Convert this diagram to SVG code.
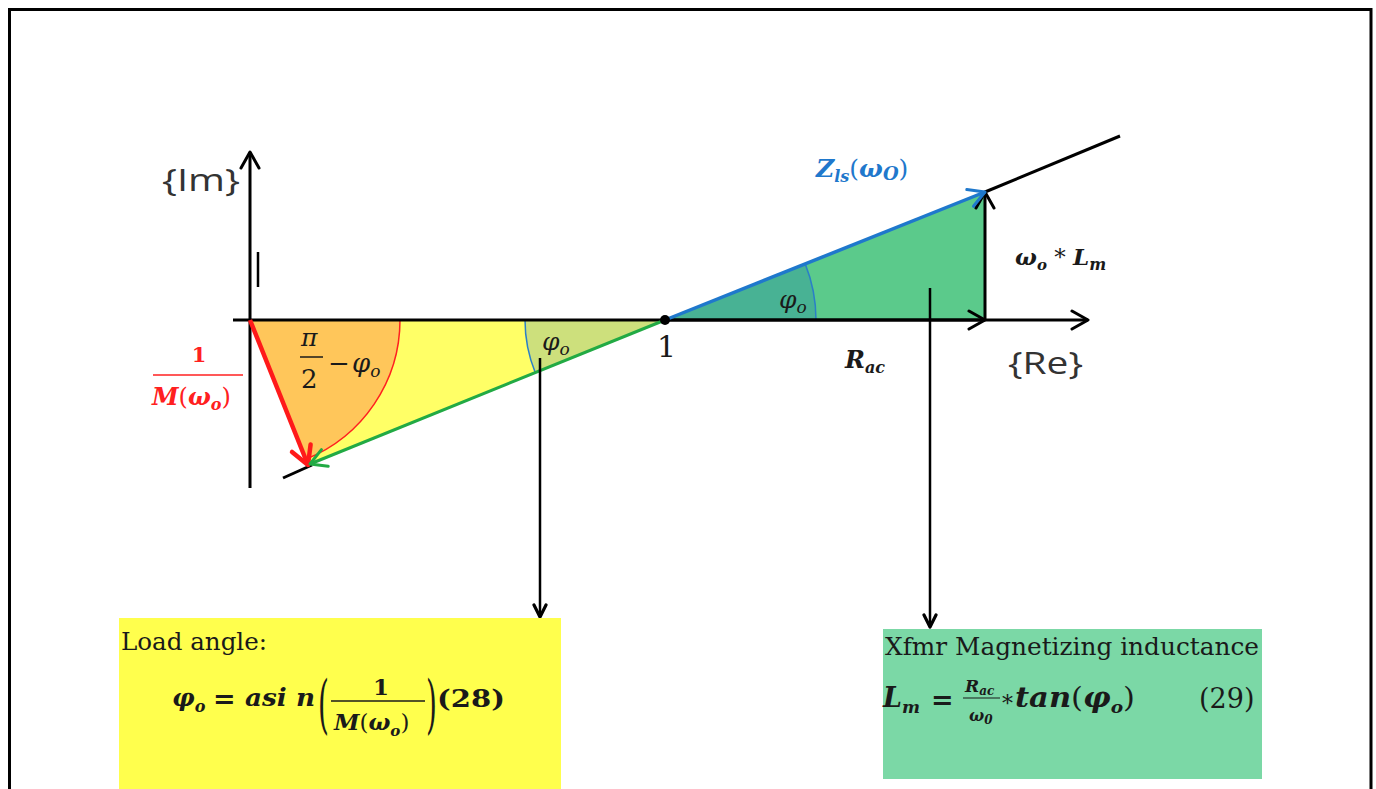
<svg xmlns="http://www.w3.org/2000/svg" width="1376" height="789" viewBox="0 0 1376 789">
<style>
.ax{stroke:#000;stroke-width:3;fill:none}
.m{font-family:"DejaVu Serif","Liberation Serif",serif;font-style:italic;font-weight:bold}
.mi{font-family:"DejaVu Serif","Liberation Serif",serif;font-style:italic}
.sans{font-family:"Open Sans","DejaVu Sans",sans-serif;fill:#333}
.ser{font-family:"DejaVu Serif","Liberation Serif",serif;fill:#1a1a1a}
</style>
<defs>
<marker id="chk" markerUnits="userSpaceOnUse" viewBox="0 0 20 22" refX="18" refY="11" markerWidth="20" markerHeight="22" orient="auto">
<path d="M2,2 L18,11 L2,20" fill="none" stroke="#000" stroke-width="3" stroke-linejoin="round" stroke-linecap="round"/>
</marker>
<marker id="chr" markerUnits="userSpaceOnUse" viewBox="0 0 24 26" refX="21" refY="13" markerWidth="24" markerHeight="26" orient="auto">
<path d="M3,3 L21,13 L3,23" fill="none" stroke="#ff1a1a" stroke-width="4.5" stroke-linejoin="round" stroke-linecap="round"/>
</marker>
<marker id="chg" markerUnits="userSpaceOnUse" viewBox="0 0 20 22" refX="18" refY="11" markerWidth="20" markerHeight="22" orient="auto">
<path d="M2,2 L18,11 L2,20" fill="none" stroke="#22aa44" stroke-width="3" stroke-linejoin="round" stroke-linecap="round"/>
</marker>
<marker id="chb" markerUnits="userSpaceOnUse" viewBox="0 0 20 22" refX="18" refY="11" markerWidth="20" markerHeight="22" orient="auto">
<path d="M2,2 L18,11 L2,20" fill="none" stroke="#1f78cc" stroke-width="3" stroke-linejoin="round" stroke-linecap="round"/>
</marker>
<marker id="chc" markerUnits="userSpaceOnUse" viewBox="0 0 16 16" refX="14" refY="8" markerWidth="16" markerHeight="16" orient="auto">
<path d="M2,2 L14,8 L2,14" fill="none" stroke="#000" stroke-width="3.2" stroke-linejoin="round" stroke-linecap="round"/>
</marker>
</defs>
<rect x="0" y="0" width="1376" height="789" fill="#fff"/>
<g id="frame"><path d="M9.5,800 L9.5,9.5 L1371,9.5 L1371,800" fill="none" stroke="#000" stroke-width="3"/></g>

<g id="left-triangle">
<path d="M250,320 L665,320 L308,465 Z" fill="#ffff66"/>
<path d="M250,320 L400,320 A150,150 0 0 1 305.7,459.2 Z" fill="#ffc65a"/>
<path d="M400,320 A150,150 0 0 1 305.7,459.2" fill="none" stroke="#ff2020" stroke-width="1.5"/>
<path d="M665,320 L525,320 A140,140 0 0 0 535.3,372.7 Z" fill="#cde07c"/>
<path d="M525,320 A140,140 0 0 0 535.3,372.7" fill="none" stroke="#2a7fc8" stroke-width="1.5"/>
</g>

<g id="right-triangle">
<path d="M665,320 L985,320 L985,192 Z" fill="#5bca8b"/>
<path d="M665,320 L816,320 A151,151 0 0 0 805.2,263.9 Z" fill="#48b294"/>
<path d="M816,320 A151,151 0 0 0 805.2,263.9" fill="none" stroke="#2a7fc8" stroke-width="1.5"/>
</g>

<g id="axes">
<line class="ax" x1="250" y1="488" x2="250" y2="152" marker-end="url(#chk)"/>
<line class="ax" x1="233" y1="320" x2="1088" y2="320" marker-end="url(#chk)"/>
<line class="ax" x1="665" y1="320" x2="985" y2="320" marker-end="url(#chk)"/>
<line class="ax" x1="985" y1="320" x2="985" y2="192" marker-end="url(#chk)"/>
<line class="ax" x1="985" y1="192" x2="1120" y2="136"/>
<line class="ax" x1="283" y1="478" x2="312" y2="465"/>
<line x1="258" y1="252" x2="258" y2="287" stroke="#000" stroke-width="2.5"/>
</g>

<g id="vectors">
<line x1="250" y1="320" x2="308" y2="465" stroke="#ff1a1a" stroke-width="4.5" marker-end="url(#chr)"/>
<line x1="665" y1="320" x2="310" y2="464" stroke="#22aa44" stroke-width="3" marker-end="url(#chg)"/>
<line x1="665" y1="320" x2="985" y2="192" stroke="#1f78cc" stroke-width="3.5" marker-end="url(#chb)"/>
<circle cx="665" cy="320" r="5" fill="#000"/>
</g>

<g id="labels">
<text class="sans" x="162" y="191" font-size="31" textLength="78" lengthAdjust="spacingAndGlyphs">{Im}</text>
<text class="sans" x="1008" y="374" font-size="31" textLength="75" lengthAdjust="spacingAndGlyphs">{Re}</text>
<text class="ser" x="657" y="357" font-size="30">1</text>
<text class="mi" x="542" y="350" font-size="25" fill="#1a1a1a">φ<tspan font-size="17" dy="5">o</tspan></text>
<text class="mi" x="779" y="308" font-size="25" fill="#1a1a1a">φ<tspan font-size="17" dy="5">o</tspan></text>
<text class="mi" x="301" y="346" font-size="25" fill="#1a1a1a">π</text>
<line x1="300" y1="357" x2="323" y2="357" stroke="#1a1a1a" stroke-width="1.5"/>
<text class="ser" x="301" y="388" font-size="26">2</text>
<text class="ser" x="328" y="372" font-size="26">−</text>
<text class="mi" x="352" y="372" font-size="26" fill="#1a1a1a">φ<tspan font-size="17" dy="5">o</tspan></text>
<text class="m" x="199" y="362" font-size="21" fill="#ff2020" text-anchor="middle" style="font-style:normal">1</text>
<line x1="153" y1="375" x2="243" y2="375" stroke="#ff2020" stroke-width="1.5"/>
<text class="m" x="152" y="405" font-size="24" fill="#ff2020">M<tspan font-style="normal" font-weight="normal">(</tspan>ω<tspan font-size="16" dy="5">o</tspan><tspan dy="-5" font-style="normal" font-weight="normal">)</tspan></text>
<text class="m" x="816" y="177" font-size="25" fill="#1f78cc">Z<tspan font-size="16" dy="5">ls</tspan><tspan dy="-5" font-style="normal" font-weight="normal">(</tspan>ω<tspan font-size="18" dy="3">O</tspan><tspan dy="-3" font-style="normal" font-weight="normal">)</tspan></text>
<text class="m" x="1015" y="265" font-size="23" fill="#1a1a1a">ω<tspan font-size="15" dy="5">o</tspan><tspan dy="-5" font-style="normal" font-weight="normal"> * </tspan>L<tspan font-size="16" dy="5">m</tspan></text>
<text class="m" x="845" y="368" font-size="24" fill="#1a1a1a">R<tspan font-size="16" dy="5">ac</tspan></text>
</g>

<g id="connectors">
<line x1="540" y1="358" x2="540" y2="617" stroke="#000" stroke-width="2.5" marker-end="url(#chc)"/>
<line x1="930" y1="288" x2="930" y2="627" stroke="#000" stroke-width="2.5" marker-end="url(#chc)"/>
</g>

<g id="load-angle-box">
<rect x="119" y="618" width="442" height="180" fill="#ffff4d"/>
<text class="ser" x="121" y="650" font-size="24" textLength="146" lengthAdjust="spacingAndGlyphs">Load angle:</text>
<text class="m" x="172" y="706" font-size="25" fill="#1a1a1a">φ<tspan font-size="16" dy="6">o</tspan></text>
<text class="ser" x="213" y="708" font-size="27" font-weight="bold">=</text>
<text class="m" x="245" y="706" font-size="25" fill="#1a1a1a" textLength="70" lengthAdjust="spacingAndGlyphs">asi n</text>
<text class="ser" font-size="40" transform="translate(318,726) scale(0.7,1.6)">(</text>
<text class="ser" x="381" y="695" font-size="23" font-weight="bold" text-anchor="middle">1</text>
<line x1="331" y1="701" x2="425" y2="701" stroke="#1a1a1a" stroke-width="1.5"/>
<text class="m" x="334" y="730" font-size="23" fill="#1a1a1a">M<tspan font-style="normal" font-weight="normal">(</tspan>ω<tspan font-size="15" dy="6">o</tspan><tspan dy="-6" font-style="normal" font-weight="normal">)</tspan></text>
<text class="ser" font-size="40" transform="translate(426,726) scale(0.7,1.6)">)</text>
<text class="ser" x="437" y="707" font-size="25" font-weight="bold" textLength="68" lengthAdjust="spacingAndGlyphs">(28)</text>
</g>

<g id="inductance-box">
<rect x="883" y="629" width="379" height="150" fill="#7bd8a6"/>
<text class="ser" x="885" y="655" font-size="24" textLength="374" lengthAdjust="spacingAndGlyphs">Xfmr Magnetizing inductance</text>
<text class="m" x="883" y="707" font-size="27" fill="#1a1a1a">L<tspan font-size="17" dy="6">m</tspan></text>
<text class="ser" x="931" y="709" font-size="27" font-weight="bold">=</text>
<text class="m" x="965" y="692" font-size="17" fill="#1a1a1a">R<tspan font-size="12" dy="3">ac</tspan></text>
<line x1="963" y1="698" x2="1000" y2="698" stroke="#1a1a1a" stroke-width="1.2"/>
<text class="m" x="969" y="721" font-size="16" fill="#1a1a1a">ω<tspan font-size="12" dy="3">0</tspan></text>
<text class="ser" x="1002" y="711" font-size="22">*</text>
<text class="m" x="1015" y="707" font-size="28" fill="#1a1a1a" textLength="120" lengthAdjust="spacingAndGlyphs">tan<tspan font-style="normal" font-weight="normal">(</tspan>φ<tspan font-size="17" dy="6">o</tspan><tspan dy="-6" font-style="normal" font-weight="normal">)</tspan></text>
<text class="ser" x="1199" y="708" font-size="27">(29)</text>
</g>
</svg>
